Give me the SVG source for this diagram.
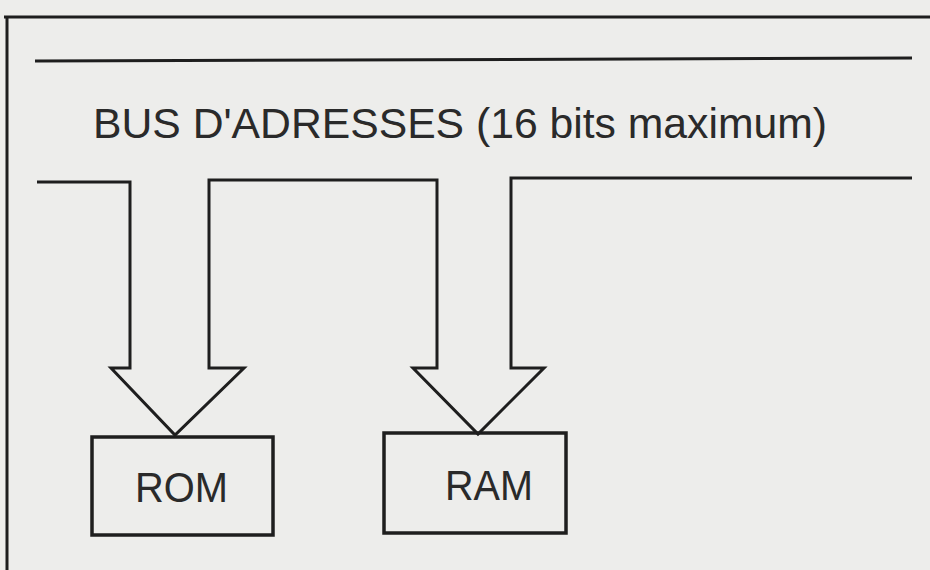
<svg xmlns="http://www.w3.org/2000/svg" width="930" height="570" viewBox="0 0 930 570">
  <style>
    .ln { fill: none; stroke: #1e1e1e; stroke-width: 3; stroke-linejoin: miter; }
    .box { fill: none; stroke: #1e1e1e; stroke-width: 3.5; }
    .lbl { font-family: "Liberation Sans", Arial, sans-serif; fill: #2a2a2a; }
  </style>
  <rect x="0" y="0" width="930" height="570" fill="#ededeb"/>
  <g id="frame">
    <path class="ln" d="M4 17 H930 M7 17 V570"/>
    <path class="ln" d="M35 61 L912 58"/>
  </g>
  <g id="title">
    <text class="lbl" x="93" y="138" font-size="43" textLength="734" lengthAdjust="spacingAndGlyphs">BUS D'ADRESSES (16 bits maximum)</text>
  </g>
  <g id="connectors">
    <path class="ln" d="M37 182 H130 V368 H111 L175 435 L244 368 H209 V180 H437 V368 H413 L478 434 L544 368 H511 V178 H912"/>
  </g>
  <g id="rom">
    <rect class="box" x="92" y="437" width="181" height="98"/>
    <text class="lbl" x="135" y="502" font-size="42" textLength="93" lengthAdjust="spacingAndGlyphs">ROM</text>
  </g>
  <g id="ram">
    <rect class="box" x="384" y="433" width="182" height="100"/>
    <text class="lbl" x="445" y="500" font-size="42" textLength="88" lengthAdjust="spacingAndGlyphs">RAM</text>
  </g>
</svg>
